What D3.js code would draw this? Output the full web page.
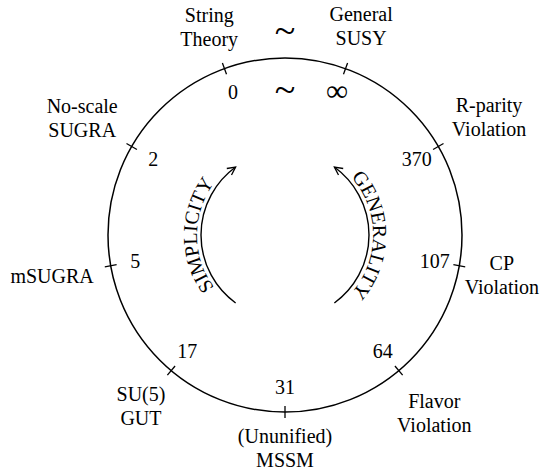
<!DOCTYPE html>
<html>
<head>
<meta charset="utf-8">
<script src="https://cdn.jsdelivr.net/npm/d3@7"></script>
<style>
  body { margin: 0; background: #fff; }
  text { font-family: "Liberation Serif", "Times New Roman", serif; fill: #000; }
</style>
</head>
<body>
<div id="chart"></div>
<script>
// Models around the circle, clockwise starting just right of the top
const modelNames = [
  ['General', 'SUSY'],
  ['R-parity', 'Violation'],
  ['CP', 'Violation'],
  ['Flavor', 'Violation'],
  ['(Ununified)', 'MSSM'],
  ['SU(5)', 'GUT'],
  ['mSUGRA'],
  ['No-scale', 'SUGRA'],
  ['String', 'Theory'],
];
// Number of free parameters for each model
const paramCounts = ['\u221E', '370', '107', '64', '31', '17', '5', '2', '0'];
// Arrow captions
const arrowLabels = ['SIMPLICITY', 'GENERALITY'];

const svgWidth = 541;
const svgHeight = 473;
const cx = 285;
const cy = 235;
const R = 177;
const lineGap = 24;
const capHeight = 13.5;

const svg = d3
  .select('#chart')
  .append('svg')
  .attr('width', svgWidth)
  .attr('height', svgHeight);

// index -> angle in degrees, clockwise from 12 o'clock
const angle = d3
  .scaleLinear()
  .domain([0, modelNames.length])
  .range([20, 380]);

function polar(deg, r) {
  const a = (deg * Math.PI) / 180;
  return [cx + r * Math.sin(a), cy - r * Math.cos(a)];
}

// Big circle
svg
  .append('circle')
  .attr('cx', cx)
  .attr('cy', cy)
  .attr('r', R)
  .attr('fill', 'none')
  .attr('stroke', '#000')
  .attr('stroke-width', 1.5);

// Tick marks
svg
  .selectAll('.tick')
  .data(modelNames)
  .enter()
  .append('line')
  .attr('class', 'tick')
  .attr('x1', (d, i) => polar(angle(i), R - 6)[0])
  .attr('y1', (d, i) => polar(angle(i), R - 6)[1])
  .attr('x2', (d, i) => polar(angle(i), R + 6)[0])
  .attr('y2', (d, i) => polar(angle(i), R + 6)[1])
  .attr('stroke', '#000')
  .attr('stroke-width', 1.3);

// Parameter counts inside the circle
svg
  .selectAll('.count')
  .data(paramCounts)
  .enter()
  .append('text')
  .attr('class', 'count')
  .attr('x', (d, i) => polar(angle(i), 152)[0])
  .attr('y', (d, i) => polar(angle(i), 152)[1])
  .attr('dy', (d) => (d === '\u221E' ? '0.3em' : '0.35em'))
  .attr('text-anchor', 'middle')
  .style('font-size', (d) => (d === '\u221E' ? '31px' : '20px'))
  .text((d) => d);

// "~" between 0 and infinity, inside and outside
[144, 203].forEach((r) => {
  const p = polar(angle(-0.5), r);
  svg
    .append('text')
    .attr('x', p[0])
    .attr('y', p[1])
    .attr('dy', '0.3em')
    .attr('text-anchor', 'middle')
    .style('font-size', '38px')
    .text('~');
});

// Model labels outside the circle, pushed out by their own size
const labels = svg
  .selectAll('.model')
  .data(modelNames)
  .enter()
  .append('text')
  .attr('class', 'model')
  .attr('text-anchor', 'middle')
  .style('font-size', '20px');

labels
  .selectAll('tspan')
  .data((d) => d)
  .enter()
  .append('tspan')
  .attr('x', 0)
  .attr('dy', (d, j) => (j === 0 ? 0 : lineGap))
  .text((d) => d);

labels.each(function (d, i) {
  const box = this.getBBox();
  const hw = box.width / 2;
  const blockH = lineGap * (d.length - 1) + capHeight;
  const hh = blockH / 2;
  const a = (angle(i) * Math.PI) / 180;
  const r = 194 + hw * Math.abs(Math.sin(a)) + hh * Math.abs(Math.cos(a));
  let [x, y] = polar(angle(i), r);
  x = Math.min(x, svgWidth - hw - 2);
  x = Math.max(x, hw + 2);
  // first baseline so that the block (cap top .. last baseline) is centred
  const y0 = y - hh + capHeight;
  d3.select(this).attr('transform', 'translate(' + x + ',' + y0 + ')');
});

// Arrow head
svg
  .append('defs')
  .append('marker')
  .attr('id', 'head')
  .attr('markerUnits', 'userSpaceOnUse')
  .attr('viewBox', '-10 -6 12 12')
  .attr('refX', 0)
  .attr('refY', 0)
  .attr('markerWidth', 12)
  .attr('markerHeight', 12)
  .attr('orient', 'auto')
  .append('path')
  .attr('d', 'M-8,-4L0,0L-8,4')
  .attr('fill', 'none')
  .attr('stroke', '#000')
  .attr('stroke-width', 1.3);

const rad = (deg) => ((deg - 90) * Math.PI) / 180;
const arrowR = 84;
const textR = 88;

// Left arrow: bottom to top, clockwise; right arrow: bottom to top, anticlockwise
const arcs = [
  { from: -144, to: -36, ccw: false },
  { from: 144, to: 36, ccw: true },
];
arcs.forEach((a) => {
  const p = d3.path();
  p.arc(cx, cy, arrowR, rad(a.from), rad(a.to), a.ccw);
  svg
    .append('path')
    .attr('d', p.toString())
    .attr('fill', 'none')
    .attr('stroke', '#000')
    .attr('stroke-width', 1.4)
    .attr('marker-end', 'url(#head)');
});

// Captions follow clockwise paths so letters face outward
const textArcs = [
  [-150, -30],
  [30, 150],
];
textArcs.forEach((t, i) => {
  const p = d3.path();
  p.arc(cx, cy, textR, rad(t[0]), rad(t[1]), false);
  svg
    .append('path')
    .attr('id', 'tp' + i)
    .attr('d', p.toString())
    .attr('fill', 'none');
  svg
    .append('text')
    .style('font-size', '20px')
    .append('textPath')
    .attr('href', '#tp' + i)
    .attr('startOffset', '50%')
    .attr('text-anchor', 'middle')
    .text(arrowLabels[i]);
});
</script>
</body>
</html>
